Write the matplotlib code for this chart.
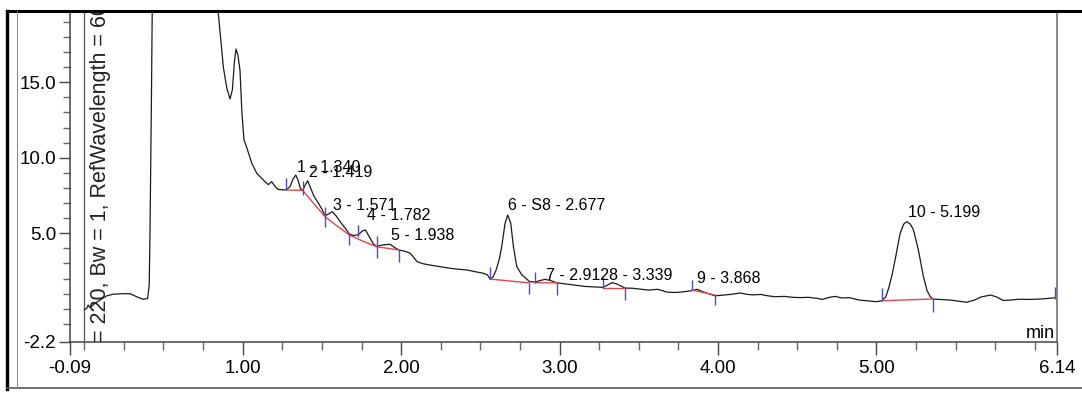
import matplotlib
matplotlib.use("Agg")
import matplotlib.pyplot as plt
from matplotlib.lines import Line2D
from matplotlib.patches import Rectangle

# Chromatogram trace (retention time in min, signal in mAU)
time_min = [
    0.00, 0.015, 0.025, 0.035, 0.05, 0.07, 0.10, 0.14, 0.18, 0.24, 0.29, 0.33, 0.37, 0.40,
    0.41, 0.415, 0.42, 0.425, 0.43, 0.44, 0.50, 0.65, 0.78, 0.82, 0.844, 0.878, 0.90, 0.92,
    0.935, 0.948, 0.958, 0.97, 0.983, 0.995, 1.008, 1.025, 1.057, 1.089, 1.13, 1.162, 1.183,
    1.204, 1.225, 1.255, 1.274, 1.30, 1.318, 1.335, 1.35, 1.365, 1.379, 1.395, 1.41, 1.425,
    1.45, 1.475, 1.50, 1.52, 1.545, 1.565, 1.59, 1.62, 1.65, 1.673, 1.70, 1.73, 1.755, 1.775,
    1.80, 1.825, 1.846, 1.87, 1.90, 1.93, 1.96, 1.987, 2.02, 2.056, 2.08, 2.10, 2.14, 2.18,
    2.24, 2.31, 2.36, 2.415, 2.47, 2.52, 2.545, 2.561, 2.58, 2.60, 2.62, 2.635, 2.656, 2.673,
    2.692, 2.709, 2.73, 2.762, 2.79, 2.81, 2.846, 2.88, 2.91, 2.94, 2.982, 3.04, 3.10, 3.16,
    3.22, 3.273, 3.30, 3.33, 3.36, 3.39, 3.414, 3.46, 3.51, 3.56, 3.62, 3.68, 3.73, 3.78,
    3.835, 3.87, 3.90, 3.94, 3.982, 4.05, 4.10, 4.14, 4.18, 4.22, 4.27, 4.32, 4.36, 4.42,
    4.47, 4.52, 4.57, 4.62, 4.66, 4.70, 4.74, 4.78, 4.834, 4.89, 4.95, 5.00, 5.034, 5.06,
    5.08, 5.10, 5.118, 5.15, 5.172, 5.192, 5.215, 5.234, 5.265, 5.297, 5.32, 5.34, 5.356, 5.38,
    5.465, 5.52, 5.57, 5.62, 5.66, 5.72, 5.76, 5.80, 5.85, 5.90, 5.97, 6.04, 6.10, 6.13,
]
signal_mau = [
    -0.05, 0.02, 0.25, 0.08, 0.20, 0.38, 0.58, 0.85, 0.96, 1.00, 1.00, 0.80, 0.63, 0.68,
    1.6, 5.0, 10.0, 15.0, 21.0, 30.0, 45.0, 50.0, 35.0, 24.0, 19.8, 16.0, 14.6, 13.9,
    14.5, 16.4, 17.2, 16.8, 15.8, 13.0, 11.2, 10.7, 9.65, 8.97, 8.53, 8.22, 8.42,
    8.10, 7.90, 7.88, 7.87, 8.10, 8.60, 8.86, 8.50, 7.95, 7.84, 8.20, 8.48, 8.10,
    7.45, 7.05, 6.60, 6.15, 6.30, 6.43, 6.15, 5.70, 5.30, 4.95, 4.85, 4.90, 5.15, 5.22,
    4.75, 4.30, 4.12, 4.20, 4.25, 4.27, 4.05, 3.89, 3.82, 3.69, 3.40, 3.12, 2.98, 2.90,
    2.80, 2.68, 2.62, 2.57, 2.45, 2.35, 2.25, 1.97, 2.10, 2.57, 3.30, 4.11, 5.66, 6.21,
    5.66, 4.11, 2.79, 2.24, 2.00, 1.80, 1.77, 1.88, 1.95, 1.88, 1.72, 1.64, 1.55, 1.48,
    1.45, 1.42, 1.55, 1.73, 1.65, 1.50, 1.37, 1.36, 1.30, 1.24, 1.29, 1.10, 1.08, 1.12,
    1.20, 1.29, 1.15, 1.00, 0.86, 0.92, 0.98, 1.05, 0.96, 0.92, 0.95, 0.85, 0.80, 0.82,
    0.76, 0.74, 0.76, 0.70, 0.62, 0.75, 0.82, 0.72, 0.73, 0.58, 0.52, 0.47, 0.53, 0.80,
    1.46, 2.30, 3.23, 5.00, 5.60, 5.77, 5.60, 5.22, 3.89, 2.12, 1.20, 0.80, 0.65, 0.63,
    0.58, 0.50, 0.43, 0.58, 0.78, 0.91, 0.78, 0.55, 0.58, 0.63, 0.62, 0.65, 0.70, 0.73,
]

# Integration baselines (red), one segment per peak group
baseline_t = [
    [1.274, 1.379],
    [1.379, 1.45, 1.52, 1.60, 1.673, 1.76, 1.846, 1.987],
    [2.561, 2.81],
    [2.846, 2.982],
    [3.273, 3.414],
    [3.835, 3.982],
    [5.034, 5.356],
]
baseline_y = [
    [7.87, 7.84],
    [7.84, 6.95, 6.10, 5.45, 4.89, 4.47, 4.11, 3.89],
    [1.97, 1.71],
    [1.73, 1.71],
    [1.36, 1.36],
    [1.24, 0.91],
    [0.53, 0.65],
]

# Peak start / end marks (blue): time, lower and upper end
mark_t = [1.274, 1.379, 1.52, 1.673, 1.73, 1.846, 1.987, 2.561, 2.81,
          2.846, 2.982, 3.273, 3.414, 3.835, 3.982, 5.034, 5.356, 6.13]
mark_lo = [7.87, 7.54, 5.44, 4.22, 4.73, 3.34, 3.08, 1.97, 0.98,
           1.73, 0.91, 1.36, 0.58, 1.24, 0.25, 0.53, -0.19, 0.65]
mark_hi = [8.66, 8.48, 6.76, 5.00, 5.55, 4.82, 3.89, 2.77, 1.71,
           2.46, 1.71, 2.12, 1.36, 1.91, 0.91, 1.38, 0.65, 1.44]

# Peak annotations
peak_labels = ["1 - 1.340", "2 - 1.419", "3 - 1.571", "4 - 1.782", "5 - 1.938",
               "6 - S8 - 2.677", "7 - 2.912", "8 - 3.339", "9 - 3.868", "10 - 5.199"]
label_t = [1.340, 1.419, 1.571, 1.782, 1.938, 2.677, 2.912, 3.31, 3.868, 5.199]
label_y = [9.06, 8.73, 6.54, 5.87, 4.56, 6.54, 1.91, 1.91, 1.71, 6.08]

xtick_pos = [-0.09, 1.0, 2.0, 3.0, 4.0, 5.0, 6.14]
xtick_text = ["-0.09", "1.00", "2.00", "3.00", "4.00", "5.00", "6.14"]
ytick_pos = [-2.2, 5.0, 10.0, 15.0, 20.0]
ytick_text = ["-2.2", "5.0", "10.0", "15.0", "20.0"]

font = ["Liberation Sans", "DejaVu Sans"]

W, H = 1082, 393
fig = plt.figure(figsize=(W / 100, H / 100), dpi=100)

# plot area: y axis at x=70 px, x axis at y=342 px, 15.1 px per mAU
y_lo, y_hi = -2.2, 21.0
ax_h = (y_hi - y_lo) * 15.1 / H
ax = fig.add_axes([70 / W, 51 / H, 987 / W, ax_h])
ax.set_xlim(-0.09, 6.14)
ax.set_ylim(y_lo, y_hi)

# signal
ax.plot(time_min, signal_mau, color="#1a1a1a", lw=0.9, zorder=3)

# baselines and peak marks
for bt, by in zip(baseline_t, baseline_y):
    ax.plot(bt, by, color="#e04848", lw=1.0, zorder=4)
ax.vlines(mark_t, mark_lo, mark_hi, color="#4a4acc", lw=1.0, zorder=5)

# time zero line
ax.axvline(0.0, color="#555555", lw=0.9, zorder=2)

for txt, t, y in zip(peak_labels, label_t, label_y):
    ax.text(t, y, txt, ha="left", va="baseline", fontsize=11.5, family=font, zorder=6)

ax.text(6.128, -1.94, "min", ha="right", va="baseline", fontsize=13, family=font)

# signal description, rotated and cut off at the top
ax.text(0.105, -2.2, "= 220, Bw = 1, RefWavelength = 600", rotation=90,
        ha="center", va="bottom", fontsize=15.5, family=font, color="#222222")

# axes styling
for side in ["left", "bottom", "right"]:
    ax.spines[side].set_color("#444444")
    ax.spines[side].set_linewidth(1.1)
ax.spines["right"].set_color("#666666")
ax.spines["top"].set_visible(False)

ax.set_xticks(xtick_pos)
ax.set_xticklabels(xtick_text, family=font, fontsize=13.5)
ax.set_xticks([0.25 * i for i in range(25) if i % 4 != 0 or i in (0, 24)], minor=True)
ax.set_yticks(ytick_pos)
ax.set_yticklabels(ytick_text, family=font, fontsize=13.5)
ax.set_yticks([v for v in range(-1, 20) if v % 5 != 0 or v == 0], minor=True)

ax.tick_params(axis="x", which="major", direction="out", length=9, width=1, color="#444444", pad=4)
ax.tick_params(axis="x", which="minor", direction="out", length=6, width=1, color="#666666")
ax.tick_params(axis="y", which="major", direction="out", length=8, width=1, color="#444444", pad=2)
ax.tick_params(axis="y", which="minor", direction="out", length=5, width=1, color="#666666")

# the window is cropped at the top: hide everything above the frame line
fig.add_artist(Rectangle((0, 1 - 10.5 / H), 1, 10.5 / H, transform=fig.transFigure,
                         facecolor="white", edgecolor="none", zorder=10))

# outer window frame
fig.add_artist(Line2D([7 / W, 1.0], [1 - 10.5 / H, 1 - 10.5 / H], transform=fig.transFigure,
                      color="black", lw=2.2, zorder=11))
fig.add_artist(Line2D([7 / W, 7 / W], [1 - 10.5 / H, 1 - 389 / H], transform=fig.transFigure,
                      color="black", lw=2.4, zorder=11))
fig.add_artist(Line2D([7 / W, 1.0], [1 - 387.5 / H, 1 - 387.5 / H], transform=fig.transFigure,
                      color="#555555", lw=1.2, zorder=11))
fig.add_artist(Line2D([17 / W, 17 / W], [1 - 11 / H, 1 - 387 / H], transform=fig.transFigure,
                      color="#888888", lw=0.7, zorder=11))

fig.savefig("out.png", dpi=100)
